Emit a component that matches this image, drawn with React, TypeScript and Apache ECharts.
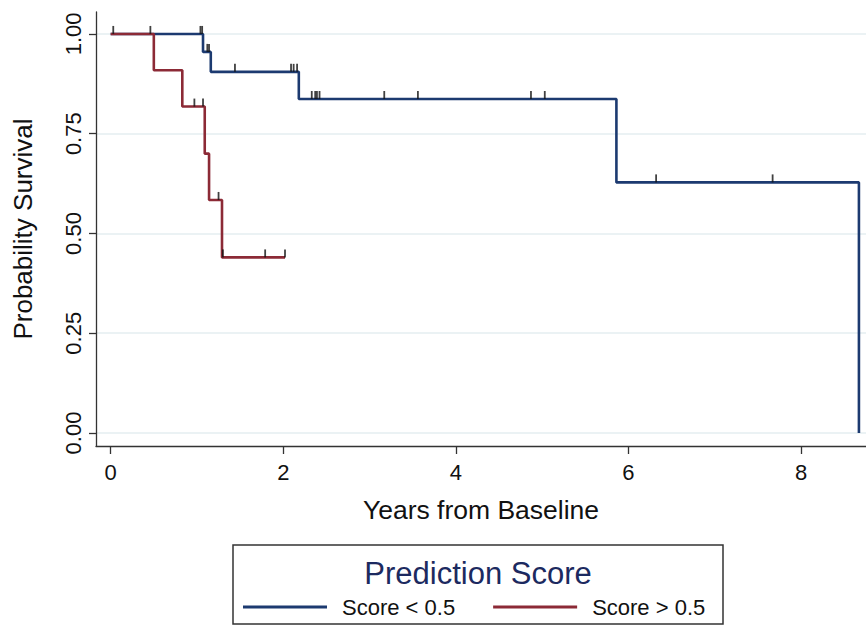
import React, { useEffect, useRef } from "react";
import * as echarts from "echarts";

// Kaplan-Meier step data (years, survival probability)
const blueTimes = [0, 1.07, 1.16, 2.18, 5.86, 8.67];
const blueSurv = [1, 0.955, 0.905, 0.837, 0.628, 0];
const redTimes = [0, 0.5, 0.83, 1.09, 1.14, 1.29, 2.02];
const redSurv = [1, 0.909, 0.818, 0.7, 0.584, 0.44, 0.44];

// Censoring marks
const blueCensorTimes = [1.04, 1.06, 1.12, 1.14, 1.44, 2.09, 2.12, 2.16, 2.33, 2.37, 2.39, 2.42, 3.17, 3.56, 4.87, 5.03, 6.32, 7.67];
const blueCensorSurv = [1, 1, 0.955, 0.955, 0.905, 0.905, 0.905, 0.905, 0.837, 0.837, 0.837, 0.837, 0.837, 0.837, 0.837, 0.837, 0.628, 0.628];
const redCensorTimes = [0.03, 0.46, 0.97, 1.07, 1.25, 1.3, 1.79, 2.02];
const redCensorSurv = [1, 1, 0.818, 0.818, 0.584, 0.44, 0.44, 0.44];

const xTicks = [0, 2, 4, 6, 8];
const yTicks = [0, 0.25, 0.5, 0.75, 1];

const seriesNames = ["Score < 0.5", "Score > 0.5"];
const legendTitle = "Prediction Score";
const xTitle = "Years from Baseline";
const yTitle = "Probability Survival";

const BLUE = "#1c3a70";
const RED = "#8c2a36";
const FONT = "'Liberation Sans', Arial, sans-serif";

function zip(a: number[], b: number[]) {
  return a.map((v, i) => [v, b[i]]);
}

export default function App() {
  const ref = useRef<HTMLDivElement>(null);
  useEffect(() => {
    if (!ref.current) return;
    const chart = echarts.init(ref.current, undefined, { renderer: "svg" });
    const censorSymbol = {
      type: "scatter" as const,
      symbol: "rect",
      symbolSize: [1.8, 8],
      symbolOffset: [0, -4],
      itemStyle: { color: "#111111" },
      z: 5,
      silent: true,
    };
    chart.setOption({
      animation: false,
      backgroundColor: "#ffffff",
      textStyle: { fontFamily: FONT },
      grid: { left: 96, top: 12, right: 0, bottom: 627 - 446, containLabel: false },
      xAxis: {
        type: "value",
        min: -0.17,
        max: 8.752,
        name: xTitle,
        nameLocation: "middle",
        nameGap: 50,
        nameTextStyle: { fontSize: 26.5, color: "#111", fontFamily: FONT },
        axisLine: { show: true, onZero: false, lineStyle: { color: "#333", width: 1.3 } },
        axisTick: { show: true, customValues: xTicks, length: 8, lineStyle: { color: "#333", width: 1.3 } },
        axisLabel: { customValues: xTicks, fontSize: 22, color: "#111", margin: 15, fontFamily: FONT },
        splitLine: { show: false },
      },
      yAxis: {
        type: "value",
        min: -0.0326,
        max: 1.055,
        name: yTitle,
        nameLocation: "middle",
        nameGap: 60,
        nameTextStyle: { fontSize: 26, color: "#111", fontFamily: FONT },
        axisLine: { show: true, onZero: false, lineStyle: { color: "#333", width: 1.3 } },
        axisTick: { show: true, customValues: yTicks, length: 7, lineStyle: { color: "#333", width: 1.3 } },
        axisLabel: {
          customValues: yTicks,
          rotate: 90,
          fontSize: 22,
          color: "#111",
          margin: 12,
          fontFamily: FONT,
          formatter: (v: number) => v.toFixed(2),
        },
        splitLine: { show: false },
      },
      legend: {
        data: seriesNames,
        left: 243,
        top: 596,
        padding: 0,
        icon: "rect",
        itemWidth: 84,
        itemHeight: 3,
        itemGap: 38,
        textStyle: { fontSize: 22, color: "#111", fontFamily: FONT, padding: [0, 0, 0, 10] },
      },
      graphic: [
        {
          type: "rect",
          shape: { x: 233, y: 545, width: 490, height: 79 },
          style: { fill: "none", stroke: "#333", lineWidth: 1.5 },
          z: 0,
        },
        {
          type: "text",
          x: 478,
          y: 573,
          style: {
            text: legendTitle,
            fontSize: 31,
            fill: "#1c2a60",
            fontFamily: FONT,
            textAlign: "center",
            textVerticalAlign: "middle",
          },
        },
      ],
      series: [
        {
          name: "grid",
          type: "line",
          data: [],
          z: 0,
          silent: true,
          markLine: {
            silent: true,
            z: 0,
            symbol: ["none", "none"],
            label: { show: false },
            lineStyle: { color: "#e5eef1", width: 1.5, type: "solid" },
            data: yTicks.map((v) => ({ yAxis: v })),
          },
        },
        {
          name: seriesNames[0],
          type: "line",
          step: "end",
          data: zip(blueTimes, blueSurv),
          showSymbol: false,
          symbol: "none",
          lineStyle: { color: BLUE, width: 2.6 },
          itemStyle: { color: BLUE },
          z: 2,
        },
        {
          name: seriesNames[1],
          type: "line",
          step: "end",
          data: zip(redTimes, redSurv),
          showSymbol: false,
          symbol: "none",
          lineStyle: { color: RED, width: 2.6 },
          itemStyle: { color: RED },
          z: 3,
        },
        { ...censorSymbol, name: "censor-blue", data: zip(blueCensorTimes, blueCensorSurv) },
        { ...censorSymbol, name: "censor-red", data: zip(redCensorTimes, redCensorSurv) },
      ],
    });
    return () => chart.dispose();
  }, []);
  return (
    <div
      ref={ref}
      style={{ position: "fixed", left: 0, top: 0, width: 866, height: 627, background: "#fff" }}
    />
  );
}
